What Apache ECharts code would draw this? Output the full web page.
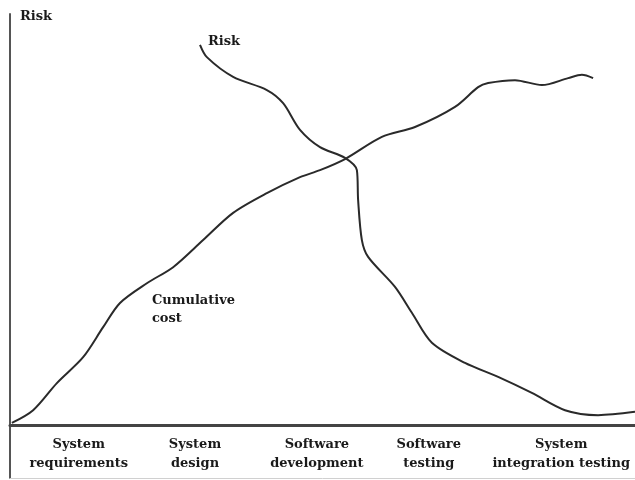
<!DOCTYPE html>
<html>
<head>
<meta charset="utf-8">
<script src="https://cdn.jsdelivr.net/npm/echarts@6/dist/echarts.min.js"></script>
<style>
  html, body { margin: 0; padding: 0; background: #fff; }
  #chart { width: 635px; height: 480px; }
</style>
</head>
<body>
<div id="chart"></div>
<script>
// 阶段标签（横轴）
var stageLabels = ['System\nrequirements', 'System\ndesign', 'Software\ndevelopment', 'Software\ntesting', 'System\nintegration testing'];
var stagePos = [11.0, 29.6, 49.1, 67.0, 88.2];

// 累计成本曲线 [x, y]
var costData = [
    [0.3, 0.5], [3.7, 3.6], [7.5, 10.2], [11.7, 16.5], [14.9, 23.8], [17.6, 29.7],
    [21.9, 34.5], [26.1, 38.4], [30.9, 45.0], [35.7, 51.6], [41.1, 56.4], [46.4, 60.3],
    [49.6, 62.0], [53.6, 64.7], [59.5, 70.1], [64.8, 72.5], [71.2, 77.4], [74.9, 82.2],
    [76.5, 83.2], [80.8, 83.9], [85.1, 82.7], [89.3, 84.4], [91.5, 85.2], [93.3, 84.4]
];
// 风险曲线 [x, y]
var riskData = [
    [30.4, 92.5], [31.5, 89.5], [35.7, 84.7], [41.1, 81.5], [43.7, 78.3], [46.4, 71.8],
    [49.6, 67.6], [53.6, 65.0], [55.5, 62.0], [55.7, 54.7], [56.3, 45.0], [57.3, 40.9],
    [61.6, 33.6], [64.3, 27.3], [67.5, 20.0], [72.8, 15.1], [78.1, 11.7], [83.5, 7.8],
    [88.8, 3.6], [94.1, 2.4], [100, 3.2]
];

var fontFam = '"DejaVu Serif", serif';
var lineColor = '#2a2a2a';
var textColor = '#1a1a1a';

var myChart = echarts.init(document.getElementById('chart'));
var option = {
    backgroundColor: '#fff',
    animation: false,
    grid: [
        // 曲线区
        { left: 10, right: 0, top: 14, bottom: 55, containLabel: false, outerBoundsMode: 'none' },
        // 阶段标签区
        { left: 10, right: 0, top: 425, bottom: 2, containLabel: false, outerBoundsMode: 'none' }
    ],
    xAxis: [
        {
            gridIndex: 0,
            type: 'value',
            min: 0,
            max: 100,
            axisLine: { show: true, lineStyle: { color: '#444', width: 3 } },
            axisTick: { show: false },
            axisLabel: { show: false },
            splitLine: { show: false }
        },
        {
            gridIndex: 1,
            type: 'value',
            position: 'top',
            min: 0,
            max: 100,
            axisLine: { show: false },
            axisTick: { show: false },
            splitLine: { show: false },
            axisLabel: {
                inside: true,
                customValues: stagePos,
                margin: 10,
                fontFamily: fontFam,
                fontWeight: 'bold',
                fontSize: 13,
                lineHeight: 19,
                color: textColor,
                align: 'center',
                verticalAlign: 'top',
                formatter: function (v) {
                    var i = stagePos.indexOf(v);
                    return i >= 0 ? stageLabels[i] : '';
                }
            }
        },
        {
            // 底部浅色边线
            gridIndex: 1,
            type: 'value',
            position: 'bottom',
            min: 0,
            max: 100,
            axisLine: { show: true, lineStyle: { color: '#d0d0d0', width: 1 } },
            axisTick: { show: false },
            axisLabel: { show: false },
            splitLine: { show: false }
        }
    ],
    yAxis: [
        {
            gridIndex: 0,
            type: 'value',
            min: 0,
            max: 100,
            name: 'Risk',
            nameLocation: 'end',
            nameGap: -3,
            nameTextStyle: {
                fontFamily: fontFam, fontWeight: 'bold', fontSize: 13, color: textColor,
                align: 'left', verticalAlign: 'middle', padding: [0, 0, 0, 10]
            },
            axisLine: { show: true, lineStyle: { color: '#555', width: 2 } },
            axisTick: { show: false },
            axisLabel: { show: false },
            splitLine: { show: false }
        },
        {
            gridIndex: 1,
            type: 'value',
            min: 0,
            max: 1,
            axisLine: { show: true, lineStyle: { color: '#555', width: 2 } },
            axisTick: { show: false },
            axisLabel: { show: false },
            splitLine: { show: false }
        }
    ],
    series: [
        {
            name: 'Cumulative cost',
            type: 'line',
            smooth: 0.3,
            symbol: 'none',
            lineStyle: { color: lineColor, width: 2 },
            data: costData,
            markPoint: {
                symbol: 'circle',
                symbolSize: 0,
                data: [{ coord: [22.7, 28.0], value: 'Cumulative\ncost' }],
                label: {
                    show: true,
                    position: 'right',
                    distance: 0,
                    formatter: '{c}',
                    fontFamily: fontFam,
                    fontWeight: 'bold',
                    fontSize: 13,
                    lineHeight: 18,
                    color: textColor
                }
            }
        },
        {
            name: 'Risk',
            type: 'line',
            smooth: 0.3,
            symbol: 'none',
            lineStyle: { color: lineColor, width: 2 },
            data: riskData,
            markPoint: {
                symbol: 'circle',
                symbolSize: 0,
                data: [{ coord: riskData[0], value: 'Risk' }],
                label: {
                    show: true,
                    position: 'right',
                    distance: 8,
                    offset: [0, -3],
                    formatter: '{c}',
                    fontFamily: fontFam,
                    fontWeight: 'bold',
                    fontSize: 13,
                    color: textColor
                }
            }
        }
    ]
};
myChart.setOption(option);
</script>
</body>
</html>
